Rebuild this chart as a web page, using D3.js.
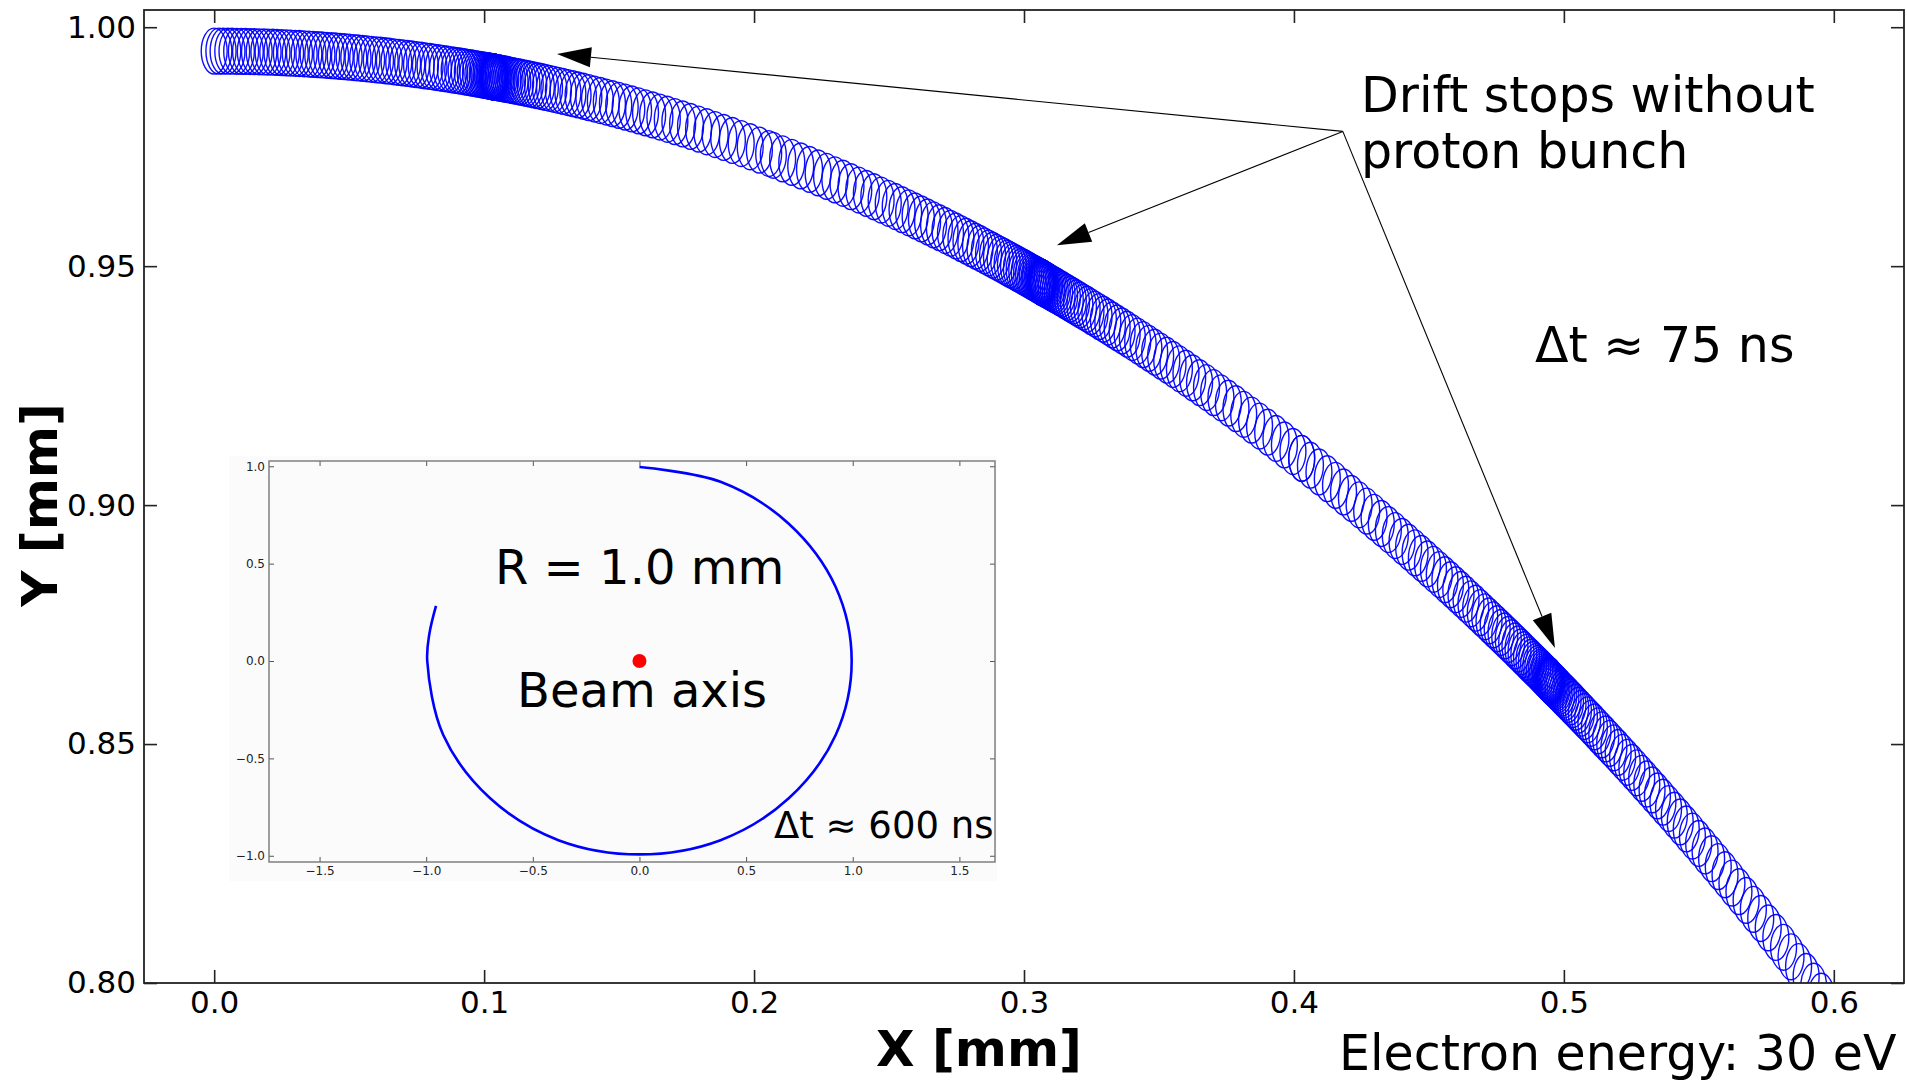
<!DOCTYPE html>
<html>
<head>
<meta charset="utf-8">
<script src="https://cdn.jsdelivr.net/npm/d3@7"></script>
<style>
body { margin: 0; background: #ffffff; }
text { font-family: "DejaVu Sans", sans-serif; }
</style>
</head>
<body>
<svg id="mainSVG" width="1907" height="1082"></svg>
<script>

// main axes
var xTicks = [0.0, 0.1, 0.2, 0.3, 0.4, 0.5, 0.6];
var yTicks = [0.80, 0.85, 0.90, 0.95, 1.00];

// electron track: guiding centre drifts on a circle round the beam axis (mm)
var driftRadius = 0.995;
var gyroRadius = 0.0048;

// loop positions, angle in degrees clockwise from +Y
var startLeg = [0.00, 0.10, 0.19, 0.29, 0.38, 0.48, 0.58, 0.67, 0.77, 0.86, 0.96, 1.06, 1.15, 1.25, 1.34,
  1.44, 1.54, 1.63, 1.73, 1.82, 1.92, 2.02, 2.11, 2.21, 2.30, 2.40, 2.50, 2.59, 2.69, 2.78, 2.88,
  2.98, 3.07, 3.17, 3.26, 3.36, 3.46, 3.55, 3.65, 3.74, 3.84, 3.94, 4.03, 4.13, 4.22, 4.32, 4.42, 4.51, 4.61];
var stopAngles = [5.98, 17.95, 29.82];
var stopOffsets = [0, 0.0018, 0.0071, 0.0159, 0.0282, 0.0441, 0.0635, 0.0864, 0.1129, 0.1429, 0.1764,
  0.2134, 0.2540, 0.2981, 0.3457, 0.3969, 0.4516, 0.5098, 0.5715, 0.6368, 0.7056, 0.7779, 0.8538,
  0.9332, 1.0161, 1.1025, 1.1925, 1.2860, 1.3830, 1.4835, 1.5876, 1.6952, 1.8063, 1.9210, 2.0392,
  2.1609, 2.2861, 2.4149, 2.5472, 2.6830, 2.8224, 2.9653, 3.1117, 3.2616, 3.4151, 3.5721, 3.7326,
  3.8967, 4.0643, 4.2354, 4.4100, 4.5882, 4.7699, 4.9551, 5.1439, 5.3361, 5.5319, 5.7313, 5.9342];
var endLeg = [35.95, 36.15, 36.35, 36.55, 36.75, 36.95, 37.15];

// arrows from the label to the stops (mm)
var arrowFrom = [0.4181, 0.9782];
var arrowTipX = [0.1270, 0.3122, 0.4967];
var arrowTipY = [0.9944, 0.9544, 0.8701];

// inset: full drift round the beam axis
var insetX = [0.00, 0.38, 0.70, 0.92, 0.995, 0.92, 0.70, 0.38, 0.00, -0.38, -0.70, -0.92, -0.995, -0.985, -0.954];
var insetY = [0.996, 0.92, 0.705, 0.38, 0.00, -0.38, -0.705, -0.92, -0.993, -0.92, -0.705, -0.38, 0.00, 0.14, 0.283];
var insetXTicks = [-1.5, -1.0, -0.5, 0.0, 0.5, 1.0, 1.5];
var insetYTicks = [-1.0, -0.5, 0.0, 0.5, 1.0];


var svg = d3.select("#mainSVG");

var x = d3.scaleLinear().domain([-0.026, 0.626]).range([144, 1904]);
var y = d3.scaleLinear().domain([0.80, 1.0036]).range([983, 10]);

svg.append("clipPath").attr("id", "plotClip")
  .append("rect")
  .attr("x", 144).attr("y", 10)
  .attr("width", 1904 - 144).attr("height", 983 - 10);

//collect the loop angles
var loopAngles = startLeg.slice();
stopAngles.forEach(function(s, i) {
  var lo = (i == 0) ? startLeg[startLeg.length - 1] : (stopAngles[i - 1] + s) / 2;
  var hi = (i == stopAngles.length - 1) ? 99 : (stopAngles[i + 1] + s) / 2;
  stopOffsets.forEach(function(d) {
    if (s - d > lo) loopAngles.push(s - d);
    if (d > 0 && s + d <= hi) loopAngles.push(s + d);
  });
});
loopAngles = loopAngles.concat(endLeg);

var rad = Math.PI / 180;
var plot = svg.append("g").attr("clip-path", "url(#plotClip)");

plot.selectAll("ellipse.loop")
  .data(loopAngles)
  .enter().append("ellipse")
  .attr("class", "loop")
  .attr("cx", function(d) { return x(driftRadius * Math.sin(d * rad)); })
  .attr("cy", function(d) { return y(driftRadius * Math.cos(d * rad)); })
  .attr("rx", x(gyroRadius) - x(0))
  .attr("ry", y(0.8) - y(0.8 + gyroRadius))
  .attr("fill", "none")
  .attr("stroke", "#0000ff")
  .attr("stroke-width", 1.4)
  .attr("stroke-opacity", 0.95);

// axes, ticks pointing inward on all four sides
var axisColor = "#222";
var gLeft = svg.append("g").attr("transform", "translate(144,0)")
  .call(d3.axisLeft(y).tickValues(yTicks).tickSize(-13).tickPadding(8).tickFormat(d3.format(".2f")));
var gBottom = svg.append("g").attr("transform", "translate(0,983)")
  .call(d3.axisBottom(x).tickValues(xTicks).tickSize(-13).tickPadding(8).tickFormat(d3.format(".1f")));
var gTop = svg.append("g").attr("transform", "translate(0,10)")
  .call(d3.axisTop(x).tickValues(xTicks).tickSize(-13).tickFormat(""));
var gRight = svg.append("g").attr("transform", "translate(1904,0)")
  .call(d3.axisRight(y).tickValues(yTicks).tickSize(-13).tickFormat(""));

[gLeft, gBottom, gTop, gRight].forEach(function(g) {
  g.attr("color", axisColor);
  g.select(".domain").remove();
  g.selectAll(".tick line").attr("stroke-width", 1.6);
  g.selectAll(".tick text")
    .attr("font-family", "DejaVu Sans")
    .attr("font-size", 31)
    .attr("fill", "#000");
});

svg.append("rect")
  .attr("x", 144).attr("y", 10)
  .attr("width", 1904 - 144).attr("height", 983 - 10)
  .attr("fill", "none")
  .attr("stroke", axisColor)
  .attr("stroke-width", 1.8);

svg.append("text")
  .attr("x", 979).attr("y", 1066)
  .attr("text-anchor", "middle")
  .attr("font-size", 50)
  .attr("font-weight", "bold")
  .text("X [mm]");

svg.append("text")
  .attr("transform", "translate(57,505) rotate(-90)")
  .attr("text-anchor", "middle")
  .attr("font-size", 50)
  .attr("font-weight", "bold")
  .text("Y [mm]");

// annotations
var annot = svg.append("g");
annot.append("text").attr("x", 1361).attr("y", 112).attr("font-size", 49).text("Drift stops without");
annot.append("text").attr("x", 1361).attr("y", 168).attr("font-size", 49).text("proton bunch");
annot.append("text").attr("x", 1535).attr("y", 362).attr("font-size", 49).text("\u0394t \u2248 75 ns");
annot.append("text").attr("x", 1339).attr("y", 1070).attr("font-size", 49).text("Electron energy: 30 eV");

var fx = x(arrowFrom[0]), fy = y(arrowFrom[1]);
arrowTipX.forEach(function(tx0, i) {
  var tx = x(tx0), ty = y(arrowTipY[i]);
  var dx = tx - fx, dy = ty - fy;
  var L = Math.sqrt(dx * dx + dy * dy);
  var ux = dx / L, uy = dy / L;
  var headLen = 34, headHalf = 10;
  var bx = tx - ux * headLen, by = ty - uy * headLen;
  annot.append("line")
    .attr("x1", fx).attr("y1", fy)
    .attr("x2", bx).attr("y2", by)
    .attr("stroke", "#000")
    .attr("stroke-width", 1.1);
  annot.append("polygon")
    .attr("points", [[tx, ty], [bx - uy * headHalf, by + ux * headHalf], [bx + uy * headHalf, by - ux * headHalf]].join(" "))
    .attr("fill", "#000");
});

// inset plot
var inset = svg.append("g");
inset.append("rect")
  .attr("x", 229).attr("y", 456)
  .attr("width", 768).attr("height", 425)
  .attr("fill", "#fbfbfb");

var ix = d3.scaleLinear().domain([-1.737, 1.667]).range([269, 995]);
var iy = d3.scaleLinear().domain([-1.032, 1.027]).range([862, 461]);

var iLeft = inset.append("g").attr("transform", "translate(269,0)")
  .call(d3.axisLeft(iy).tickValues(insetYTicks).tickSize(-5).tickPadding(4).tickFormat(d3.format(".1f")));
var iBottom = inset.append("g").attr("transform", "translate(0,862)")
  .call(d3.axisBottom(ix).tickValues(insetXTicks).tickSize(-5).tickPadding(4).tickFormat(d3.format(".1f")));
var iTop = inset.append("g").attr("transform", "translate(0,461)")
  .call(d3.axisTop(ix).tickValues(insetXTicks).tickSize(-5).tickFormat(""));
var iRight = inset.append("g").attr("transform", "translate(995,0)")
  .call(d3.axisRight(iy).tickValues(insetYTicks).tickSize(-5).tickFormat(""));

[iLeft, iBottom, iTop, iRight].forEach(function(g) {
  g.attr("color", "#555");
  g.select(".domain").remove();
  g.selectAll(".tick text")
    .attr("font-family", "DejaVu Sans")
    .attr("font-size", 12)
    .attr("fill", "#222");
});

inset.append("rect")
  .attr("x", 269).attr("y", 461)
  .attr("width", 995 - 269).attr("height", 862 - 461)
  .attr("fill", "none")
  .attr("stroke", "#777")
  .attr("stroke-width", 1.4);

var insetLine = d3.line()
  .x(function(d, i) { return ix(insetX[i]); })
  .y(function(d, i) { return iy(insetY[i]); })
  .curve(d3.curveCatmullRom.alpha(0.5));

inset.append("path")
  .attr("d", insetLine(insetX))
  .attr("fill", "none")
  .attr("stroke", "#0000ff")
  .attr("stroke-width", 2.6);

inset.append("circle")
  .attr("cx", ix(0)).attr("cy", iy(0))
  .attr("r", 7)
  .attr("fill", "#ff0000");

inset.append("text").attr("x", 495).attr("y", 584).attr("font-size", 48).text("R = 1.0 mm");
inset.append("text").attr("x", 517).attr("y", 707).attr("font-size", 48).text("Beam axis");
inset.append("text").attr("x", 774).attr("y", 838).attr("font-size", 37).text("\u0394t \u2248 600 ns");

</script>
</body>
</html>
